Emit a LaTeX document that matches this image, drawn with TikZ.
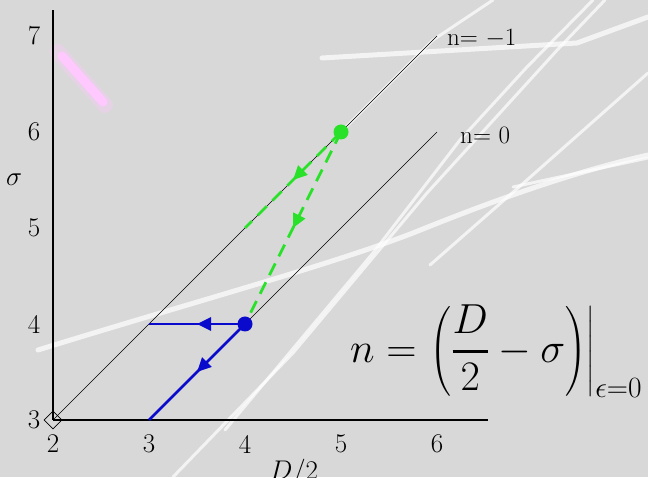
\RequirePackage{fix-cm}
\documentclass[tikz,border=0pt]{standalone}
\usepackage{amsmath}
\usetikzlibrary{arrows.meta,decorations.markings,shapes.geometric}
\definecolor{bg}{RGB}{216,216,216}
\definecolor{mygreen}{RGB}{40,225,40}
\definecolor{myblue}{RGB}{10,10,205}
\definecolor{pinkblob}{RGB}{255,200,255}
\begin{document}
\begin{tikzpicture}[x=96pt,y=96pt,
  thinline/.style={black,line width=0.6pt},
  axisline/.style={black,line width=1.1pt},
  midarrow/.style={postaction={decorate},decoration={markings,mark=at position 0.5 with {\arrow{Triangle[length=14pt,width=13pt]}}}},
  gdash/.style={mygreen,line width=2.8pt,dash pattern=on 13pt off 8pt},
  bline/.style={myblue,line width=2.6pt},
  dotmark/.style={circle,inner sep=0pt,minimum size=15pt},
  ticklab/.style={font=\fontsize{27}{30}\selectfont,inner sep=0pt},
  nlab/.style={font=\fontsize{25}{28}\selectfont,inner sep=0pt,anchor=base west},
  streak/.style={white,line cap=round,line join=round,opacity=0.7}
]
\useasboundingbox (1.44792,2.40625) rectangle (8.19792,7.375);
\fill[bg] (1.44792,2.40625) rectangle (8.19792,7.375);
% background streaks in pixel coordinates
\begin{scope}[shift={(1.44792,7.375)},x=1pt,y=-1pt]
  \draw[streak,line width=5pt] (322,58) -- (577,43) -- (648,17);
  \draw[streak,line width=5pt] (38,350) .. controls (200,300) and (330,265) .. (413,233) .. controls (470,210) and (560,175) .. (648,155);
  \draw[streak,line width=3pt] (513,187) -- (648,158);
  \draw[streak,line width=3pt] (173,477) -- (293,353) -- (427,193) -- (560,47) -- (605,0);
  \draw[streak,line width=3pt] (225,430) -- (373,253) -- (460,140) -- (527,67) -- (593,0);
  \draw[streak,line width=3pt] (340,133) -- (433,40) -- (493,0);
  \draw[streak,line width=3pt] (648,73) -- (527,180) -- (430,265);
  \draw[pinkblob,line width=16pt,line cap=round,opacity=0.35] (58,52) -- (105,105);
  \draw[pinkblob,line width=9pt,line cap=round] (62,56) -- (103,102);
\end{scope}
% coordinates
\coordinate (ytop) at (2,7.27);
\coordinate (xend) at (6.53,3);
\coordinate (m1) at (6,7);
\coordinate (z0) at (3,3);
\coordinate (z1) at (6,6);
\coordinate (g1) at (4,5);
\coordinate (b1) at (3,4);
% axes
\node[diamond,draw,line width=0.7pt,minimum size=18pt,inner sep=0pt] (O) at (2,3) {};
\draw[axisline] (O.center) -- (ytop);
\draw[axisline] (O.center) -- (xend);
% n lines
\draw[thinline] (O.center) -- (m1);
\draw[thinline] (z0) -- (z1);
% points
\node[dotmark] (G) at (5,6) {};
\node[dotmark] (B) at (4,4) {};
% paths
\draw[gdash,midarrow] (G.center) -- (g1);
\draw[gdash,midarrow] (G.center) -- (B.center);
\draw[bline,midarrow] (B.center) -- (b1);
\draw[bline,midarrow] (B.center) -- (z0);
\fill[mygreen] (G) circle (7.5pt);
\fill[myblue] (B) circle (7.5pt);
% tick labels
\foreach \v in {2,...,6} \node[ticklab] (xt\v) at (\v,2.75) {\v};
\foreach \v in {3,...,7} \node[ticklab] (yt\v) at (1.802,\v) {\v};
\node[ticklab] (ylab) at (1.594,5.5) {$\sigma$};
\node[ticklab,anchor=base] (xlab) at (4.51,2.385) {$D/2$};
\node[nlab] (lm1) at (6.104,6.906) {n= $-1$};
\node[nlab] (l0) at (6.24,5.885) {n= 0};
\node[font=\fontsize{42}{48}\selectfont,inner sep=0pt,anchor=base west] (eq) at (5.094,3.604)
  {$\displaystyle n = \left.\left(\genfrac{}{}{3pt}{0}{D}{2}-\sigma\right)\right|_{\epsilon=0}$};
\end{tikzpicture}
\end{document}
